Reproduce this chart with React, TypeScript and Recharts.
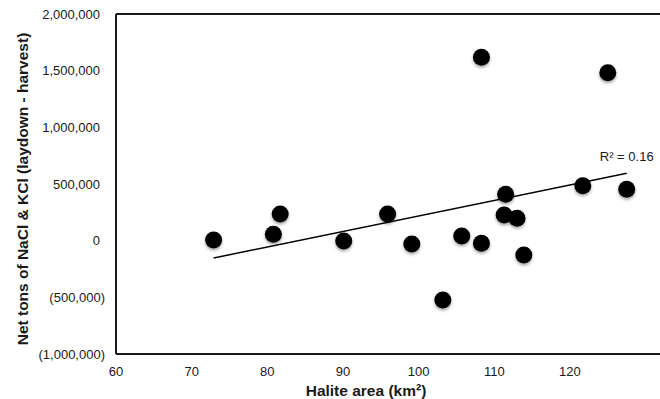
import { ReferenceDot, ReferenceLine, Scatter, ScatterChart, XAxis, YAxis } from "recharts";

const haliteArea = [72.9, 80.8, 81.7, 90.1, 95.9, 99.1, 103.2, 105.7, 108.3, 108.3, 111.3, 111.5, 113.0, 113.9, 121.7, 125.0, 127.5];
const netTons = [6000, 56000, 235000, -3000, 235000, -29000, -524000, 41000, -23000, 1618000, 226000, 409000, 197000, -126000, 485000, 1482000, 453000];
const xTicks = [60, 70, 80, 90, 100, 110, 120];
const yTicks = [-1000000, -500000, 0, 500000, 1000000, 1500000, 2000000];
const trendX = [72.9, 127.5];
const trendY = [-153000, 594000];

const points = haliteArea.map((x, i) => ({ x, y: netTons[i] }));
const font = '"Liberation Sans", Arial, sans-serif';
const ink = "#1a1a1a";

function YTick({ x, y, payload }: any) {
  const v = payload.value as number;
  const s = Math.abs(v).toLocaleString("en-US");
  return (
    <text x={v < 0 ? x + 5 : x} y={y} dy={4.5} textAnchor="end" fontSize={13} fontFamily={font} fill={ink}>
      {v < 0 ? `(${s})` : s}
    </text>
  );
}

function Dot({ cx, cy }: any) {
  return (
    <circle cx={cx} cy={cy} r={8.5} fill="#000" style={{ filter: "drop-shadow(0px 2px 1.5px rgba(0,0,0,0.35))" }} />
  );
}

export default function App() {
  return (
    <div style={{ position: "absolute", left: 0, top: 0, background: "#fff" }}>
      <ScatterChart width={660} height={399} margin={{ top: 14, right: 0, bottom: 0, left: 0 }}>
        <XAxis
          type="number"
          dataKey="x"
          domain={[60, 131.9]}
          ticks={xTicks}
          allowDataOverflow
          height={45}
          tickSize={0}
          tickMargin={13}
          stroke={ink}
          strokeWidth={2}
          tick={{ fontSize: 13, fontFamily: font, fill: ink }}
          label={{
            content: ({ viewBox }: any) => (
              <text
                x={viewBox.x + viewBox.width / 2 - 22}
                y={viewBox.y + 42}
                textAnchor="middle"
                fontSize={15.5}
                fontWeight="bold"
                fontFamily={font}
                fill={ink}
              >
                Halite area (km²)
              </text>
            ),
          }}
        />
        <YAxis
          type="number"
          dataKey="y"
          domain={[-1000000, 2000000]}
          ticks={yTicks}
          allowDataOverflow
          width={116}
          tickSize={0}
          tickMargin={16}
          stroke={ink}
          strokeWidth={2}
          tick={<YTick />}
          label={{
            content: ({ viewBox }: any) => (
              <text
                x={28}
                y={viewBox.y + viewBox.height / 2 + 5}
                transform={`rotate(-90, 28, ${viewBox.y + viewBox.height / 2 + 5})`}
                textAnchor="middle"
                fontSize={15.5}
                fontWeight="bold"
                fontFamily={font}
                fill={ink}
              >
                Net tons of NaCl &amp; KCl (laydown - harvest)
              </text>
            ),
          }}
        />
        <ReferenceLine y={2000000} stroke={ink} strokeWidth={2} />
        <ReferenceLine
          segment={[
            { x: trendX[0], y: trendY[0] },
            { x: trendX[1], y: trendY[1] },
          ]}
          stroke="#000"
          strokeWidth={1.5}
        />
        <Scatter data={points} shape={<Dot />} isAnimationActive={false} />
        <ReferenceDot
          x={127.5}
          y={740000}
          r={0}
          label={{ value: "R² = 0.16", position: "center", fontSize: 13, fontFamily: font, fill: ink }}
        />
      </ScatterChart>
    </div>
  );
}
